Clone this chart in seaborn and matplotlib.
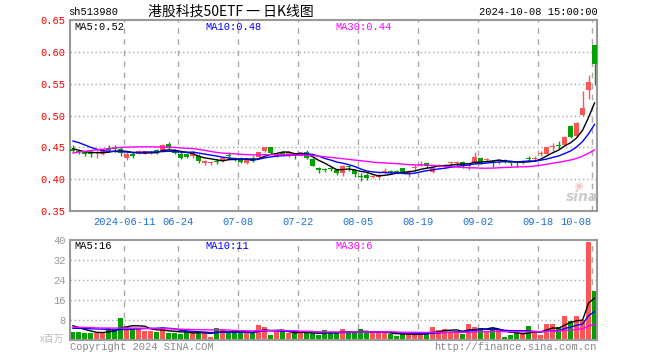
import numpy as np
import pandas as pd
import matplotlib
matplotlib.use("Agg")
import matplotlib.pyplot as plt
import seaborn as sns

# ---------------- data ----------------
holidays = ["2024-06-10", "2024-09-16", "2024-09-17", "2024-10-01", "2024-10-02",
            "2024-10-03", "2024-10-04", "2024-10-07"]
dates = [d for d in pd.bdate_range("2024-05-28", "2024-10-08").strftime("%Y-%m-%d")
         if d not in holidays]

opens = [0.448, 0.444, 0.443, 0.443, 0.441, 0.440, 0.447, 0.449, 0.448, 0.433,
         0.440, 0.440, 0.440, 0.441, 0.446, 0.445, 0.455, 0.446, 0.440, 0.439,
         0.436, 0.437, 0.425, 0.426, 0.428, 0.428, 0.438, 0.433, 0.433, 0.425,
         0.434, 0.435, 0.444, 0.450, 0.436, 0.442, 0.436, 0.438, 0.437, 0.443,
         0.432, 0.418, 0.416, 0.417, 0.415, 0.409, 0.420, 0.414, 0.405, 0.407,
         0.403, 0.403, 0.411, 0.412, 0.413, 0.417, 0.408, 0.417, 0.423, 0.425,
         0.412, 0.421, 0.419, 0.426, 0.426, 0.427, 0.420, 0.427, 0.433, 0.430,
         0.428, 0.428, 0.429, 0.426, 0.426, 0.426, 0.432, 0.432, 0.440, 0.440,
         0.451, 0.453, 0.454, 0.483, 0.468, 0.5005, 0.540, 0.610]
highs = [0.453, 0.446, 0.445, 0.446, 0.446, 0.447, 0.453, 0.454, 0.450, 0.442,
         0.442, 0.446, 0.445, 0.445, 0.447, 0.456, 0.458, 0.448, 0.442, 0.441,
         0.444, 0.440, 0.430, 0.429, 0.431, 0.435, 0.442, 0.435, 0.435, 0.433,
         0.436, 0.443, 0.451, 0.451, 0.441, 0.445, 0.445, 0.440, 0.443, 0.446,
         0.433, 0.419, 0.418, 0.419, 0.416, 0.423, 0.421, 0.416, 0.410, 0.409,
         0.407, 0.409, 0.417, 0.414, 0.415, 0.418, 0.414, 0.422, 0.428, 0.426,
         0.420, 0.424, 0.424, 0.428, 0.428, 0.428, 0.424, 0.442, 0.434, 0.434,
         0.430, 0.431, 0.432, 0.428, 0.427, 0.430, 0.437, 0.436, 0.444, 0.451,
         0.457, 0.460, 0.468, 0.485, 0.490, 0.538, 0.563, 0.611]
lows = [0.442, 0.440, 0.436, 0.435, 0.433, 0.438, 0.442, 0.443, 0.437, 0.430,
        0.433, 0.439, 0.439, 0.440, 0.440, 0.443, 0.448, 0.439, 0.432, 0.433,
        0.433, 0.426, 0.423, 0.423, 0.424, 0.427, 0.434, 0.428, 0.425, 0.424,
        0.427, 0.434, 0.443, 0.440, 0.435, 0.438, 0.435, 0.432, 0.436, 0.432,
        0.420, 0.410, 0.412, 0.413, 0.406, 0.405, 0.413, 0.404, 0.397, 0.399,
        0.402, 0.401, 0.410, 0.409, 0.409, 0.409, 0.404, 0.413, 0.421, 0.418,
        0.410, 0.419, 0.418, 0.420, 0.423, 0.418, 0.414, 0.424, 0.424, 0.428,
        0.419, 0.424, 0.425, 0.421, 0.419, 0.424, 0.428, 0.429, 0.437, 0.439,
        0.445, 0.447, 0.452, 0.464, 0.466, 0.500, 0.5265, 0.548]
closes = [0.444, 0.442, 0.439, 0.440, 0.443, 0.444, 0.446, 0.447, 0.441, 0.440,
          0.436, 0.444, 0.444, 0.443, 0.441, 0.453, 0.449, 0.441, 0.434, 0.435,
          0.442, 0.428, 0.428, 0.427, 0.427, 0.434, 0.437, 0.430, 0.427, 0.432,
          0.429, 0.442, 0.450, 0.441, 0.440, 0.440, 0.442, 0.437, 0.442, 0.434,
          0.421, 0.414, 0.415, 0.416, 0.409, 0.421, 0.419, 0.408, 0.404, 0.402,
          0.405, 0.407, 0.412, 0.411, 0.412, 0.410, 0.413, 0.418, 0.424, 0.421,
          0.418, 0.422, 0.422, 0.427, 0.427, 0.422, 0.422, 0.435, 0.427, 0.432,
          0.427, 0.429, 0.428, 0.425, 0.425, 0.427, 0.431, 0.433, 0.441, 0.450,
          0.452, 0.452, 0.466, 0.466, 0.488, 0.5125, 0.553, 0.581]
volumes = [3.3, 3.3, 2.9, 2.9, 2.9, 2.9, 4.8, 4.5, 8.9, 5.3,
           5.0, 4.7, 3.7, 3.7, 3.3, 4.7, 2.9, 2.9, 2.4, 3.3,
           2.7, 3.3, 2.7, 1.3, 4.9, 4.3, 2.9, 2.9, 3.3, 2.9,
           2.7, 6.0, 5.3, 2.0, 3.3, 3.3, 2.9, 2.9, 2.9, 2.9,
           2.7, 2.0, 4.0, 2.9, 2.7, 4.4, 2.7, 2.9, 4.4, 2.9,
           2.9, 2.9, 2.9, 2.4, 1.6, 2.4, 2.4, 2.4, 2.4, 2.7,
           5.2, 4.0, 4.4, 3.3, 3.3, 2.4, 6.4, 5.2, 4.8, 3.3,
           4.8, 4.0, 1.3, 2.0, 2.7, 2.4, 5.6, 3.6, 2.0, 6.4,
           6.4, 5.2, 9.6, 7.6, 9.6, 8.0, 39.2, 19.6]
# history before the first shown day (needed for the moving averages)
prior_closes = [0.400, 0.403, 0.405, 0.408, 0.412, 0.414, 0.418, 0.420, 0.425, 0.430,
                0.436, 0.440, 0.445, 0.450, 0.455, 0.452, 0.458, 0.455, 0.452, 0.454,
                0.468, 0.475, 0.478, 0.472, 0.467, 0.455, 0.450, 0.446, 0.445]
prior_volumes = [4.2, 4.8, 5.5, 6.2, 5.0, 4.5, 5.8, 7.0, 6.5, 5.2,
                 4.8, 5.6, 6.0, 5.1, 4.7, 5.3, 4.9, 5.5, 5.0, 5.4,
                 3.5, 4.0, 3.8, 3.6, 3.6, 6.5, 7.0, 6.0, 5.7]

tick_dates = ["2024-06-11", "2024-06-24", "2024-07-08", "2024-07-22", "2024-08-05",
              "2024-08-19", "2024-09-02", "2024-09-18", "2024-10-08"]
tick_labels = ["2024-06-11", "06-24", "07-08", "07-22", "08-05",
               "08-19", "09-02", "09-18", "10-08"]
price_ticks = [0.35, 0.40, 0.45, 0.50, 0.55, 0.60, 0.65]
vol_ticks = [8, 16, 24, 32, 40]

# ---------------- derived ----------------
n = len(closes)
idx = np.arange(n)
allc = pd.Series(prior_closes + closes)
allv = pd.Series(prior_volumes + volumes)
p = len(prior_closes)
ma = {w: allc.rolling(w).mean().values[p:] for w in (5, 10, 30)}
vma = {w: allv.rolling(w).mean().values[p:] for w in (5, 10, 30)}
df = pd.DataFrame({"i": idx, "ma5": ma[5], "ma10": ma[10], "ma30": ma[30],
                   "v5": vma[5], "v10": vma[10], "v30": vma[30]})

UP, DOWN = "#ff5555", "#00a000"
cols = [UP if c >= o else DOWN for o, c in zip(opens, closes)]

sns.set_theme(style="white")
MONO = ["Liberation Mono", "DejaVu Sans Mono"]
CJK = ["Noto Sans CJK SC", "DejaVu Sans"]
plt.rcParams["font.family"] = MONO

W, H = 660, 360
fig = plt.figure(figsize=(6.6, 3.6), dpi=100)
fig.patch.set_facecolor("white")


def px(x, y):
    return x / W, 1 - y / H


ax1 = fig.add_axes([70 / W, 1 - 211 / H, 527 / W, 191 / H])
ax2 = fig.add_axes([70 / W, 1 - 340 / H, 527 / W, 100 / H])

xlim = (-0.45, n - 1 + 0.4)
tick_pos = [dates.index(d) - 0.45 for d in tick_dates]
GRID = "#aaaaaa"

for ax in (ax1, ax2):
    ax.set_facecolor("white")
    ax.set_xlim(*xlim)
    for s in ax.spines.values():
        s.set_color("#999999")
        s.set_linewidth(1.5)
    for t in tick_pos:
        ax.axvline(t, color=GRID, lw=1, ls=(0, (4, 4)), zorder=0)

# price panel
for k in range(n):
    ax1.vlines(idx[k], lows[k], highs[k], color=cols[k], lw=1, zorder=2)
    body = max(abs(closes[k] - opens[k]), 0.0016)
    ax1.bar(idx[k], body, bottom=min(opens[k], closes[k]), width=0.82,
            color=cols[k], linewidth=0, zorder=3)
sns.lineplot(data=df, x="i", y="ma5", color="black", lw=1, ax=ax1, zorder=4)
sns.lineplot(data=df, x="i", y="ma10", color="#0000ff", lw=1, ax=ax1, zorder=4)
sns.lineplot(data=df, x="i", y="ma30", color="#ff00ff", lw=1, ax=ax1, zorder=4)
ax1.set_ylim(0.35, 0.65)
for yv in price_ticks[1:-1]:
    ax1.axhline(yv, color=GRID, lw=1, ls=(0, (1, 2)), zorder=0)
ax1.set_yticks(price_ticks)
ax1.set_yticklabels([f"{v:.2f}" for v in price_ticks])
ax1.set_xticks(tick_pos)
ax1.set_xticklabels(tick_labels)
ax1.tick_params(axis="y", length=0, labelcolor="#ff0000", labelsize=7.5, pad=3)
ax1.tick_params(axis="x", length=0, labelcolor="#1e6fe0", labelsize=7.5, pad=4)
for lab in ax1.get_xticklabels()[-1:]:
    lab.set_horizontalalignment("right")
ax1.set_xlabel("")
ax1.set_ylabel("")

# volume panel
ax2.bar(idx, volumes, width=0.88, color=cols, linewidth=0, zorder=2)
sns.lineplot(data=df, x="i", y="v5", color="black", lw=1, ax=ax2, zorder=4)
sns.lineplot(data=df, x="i", y="v10", color="#0000ff", lw=1, ax=ax2, zorder=4)
sns.lineplot(data=df, x="i", y="v30", color="#ff00ff", lw=1, ax=ax2, zorder=4)
ax2.set_ylim(0, 40)
for yv in vol_ticks[:-1]:
    ax2.axhline(yv, color=GRID, lw=1, ls=(0, (1, 2)), zorder=0)
ax2.set_yticks(vol_ticks)
ax2.set_yticklabels([str(v) for v in vol_ticks])
ax2.set_xticks([])
ax2.tick_params(axis="y", length=0, labelcolor="#999999", labelsize=7.5, pad=3)
ax2.set_xlabel("")
ax2.set_ylabel("")

# header texts
fig.text(*px(68, 12), "sh513980", ha="left", va="center", fontsize=7.5, color="black")
fig.text(*px(231, 12), "港股科技50ETF 一 日K线图", ha="center", va="center",
         fontsize=10, color="black", family=CJK)
fig.text(*px(598, 12), "2024-10-08 15:00:00", ha="right", va="center",
         fontsize=7.5, color="black")

# MA labels
fig.text(*px(74, 27), "MA5:0.52", ha="left", va="center", fontsize=7.5, color="black")
fig.text(*px(205, 27), "MA10:0.48", ha="left", va="center", fontsize=7.5, color="#0000ff")
fig.text(*px(335, 27), "MA30:0.44", ha="left", va="center", fontsize=7.5, color="#ff00ff")
fig.text(*px(74, 246), "MA5:16", ha="left", va="center", fontsize=7.5, color="black")
fig.text(*px(205, 246), "MA10:11", ha="left", va="center", fontsize=7.5, color="#0000ff")
fig.text(*px(335, 246), "MA30:6", ha="left", va="center", fontsize=7.5, color="#ff00ff")

# watermark / footer
fig.text(*px(582, 197), "sina", ha="center", va="center", fontsize=10,
         color="#cccccc", fontweight="bold", style="italic", family=["DejaVu Sans"])
fig.text(*px(579, 186), "◉", ha="center", va="center", fontsize=7,
         color="#f2c4c4", family=["DejaVu Sans"])
fig.text(*px(70, 347), "Copyright 2024 SINA.COM", ha="left", va="center",
         fontsize=7.5, color="#888888")
fig.text(*px(597, 347), "http://finance.sina.com.cn", ha="right", va="center",
         fontsize=7.5, color="#888888")
fig.text(*px(64, 339), "x百万", ha="right", va="center", fontsize=7,
         color="#bbbbbb", family=CJK)

fig.savefig("out.png", dpi=100, facecolor="white")
